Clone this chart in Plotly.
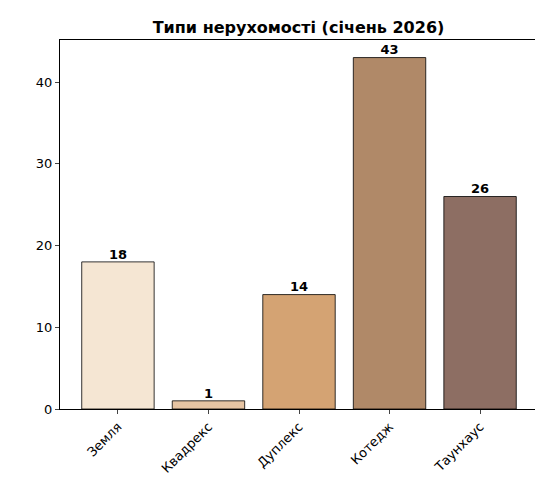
import plotly.graph_objects as go

categories = ["Земля", "Квадрекс", "Дуплекс", "Котедж", "Таунхаус"]
values = [18, 1, 14, 43, 26]
colors = ["#F5E6D3", "#E6C4A3", "#D4A373", "#B08968", "#8D6E63"]

xs = list(range(len(categories)))
fig = go.Figure(go.Bar(
    x=xs, y=values, width=0.8,
    marker=dict(color=colors, line=dict(color="black", width=0.8)),
))
fig.add_trace(go.Scatter(
    x=xs, y=values, mode="text", text=[f"<b>{v}</b>" for v in values],
    textposition="top center", textfont=dict(size=13, color="black"),
    cliponaxis=False, hoverinfo="skip",
))
fig.update_layout(
    width=543, height=480, paper_bgcolor="white", plot_bgcolor="white",
    margin=dict(l=52, r=13, t=32, b=79, autoexpand=False),
    font=dict(family="DejaVu Sans", size=13, color="black"),
    title=dict(text="<b>Типи нерухомості (січень 2026)</b>", x=0.535, xanchor="center",
               y=0.96, yanchor="middle", font=dict(size=16)),
    showlegend=False,
)
fig.update_xaxes(range=[-0.64, 4.64], tickvals=xs, ticktext=categories, automargin=False,
                 tickangle=-45, showline=True, linecolor="black", mirror=True,
                 ticks="outside", ticklen=4, showgrid=False, zeroline=False)
fig.update_yaxes(range=[0, 45.15], tickvals=[0, 10, 20, 30, 40], showline=True, automargin=False,
                 linecolor="black", mirror=True, ticks="outside", ticklen=4,
                 showgrid=False, zeroline=False)
fig.write_html("out.html")
